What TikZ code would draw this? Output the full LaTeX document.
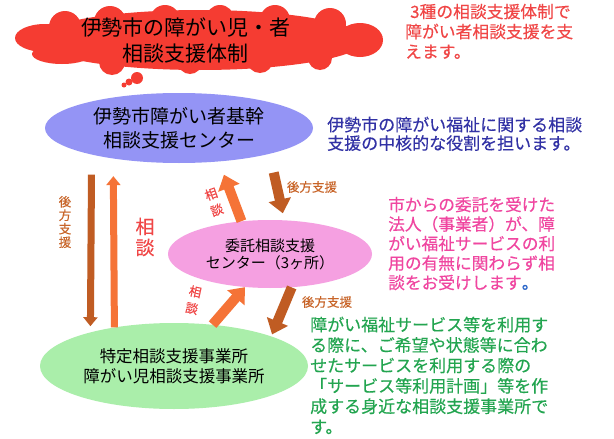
\documentclass[tikz,border=0pt]{standalone}
\usepackage{fontspec}
\setmainfont{Noto Sans CJK JP}
\newfontfamily\jpb{Noto Sans CJK JP}[FakeBold=0.3]
\usetikzlibrary{shapes.geometric,arrows.meta,calc}
\definecolor{cloudred}{RGB}{245,60,50}
\definecolor{blueell}{RGB}{148,148,245}
\definecolor{pinkell}{RGB}{245,160,225}
\definecolor{greenell}{RGB}{170,238,170}
\definecolor{arrbrown}{RGB}{192,92,35}
\definecolor{arrorange}{RGB}{245,115,55}
\definecolor{lblbrown}{RGB}{200,100,40}
\definecolor{txtred}{RGB}{240,70,70}
\definecolor{txtblue}{RGB}{50,50,165}
\definecolor{txtpink}{RGB}{240,70,160}
\definecolor{txtgreen}{RGB}{35,165,80}
\definecolor{dotblue}{RGB}{40,100,200}
\begin{document}
\begin{tikzpicture}[x=1pt,y=-1pt,
  ell/.style={ellipse, inner sep=0pt, align=center, text=black},
  para/.style={inner sep=0pt, align=left, anchor=north west},
  fatup/.style={draw=arrorange, line width=10pt, -{Triangle[width=22pt,length=14pt]}},
  fatdown/.style={draw=arrbrown, line width=10pt, -{Triangle[width=22pt,length=14pt]}},
  thinup/.style={draw=arrorange, line width=7pt, -{Triangle[width=14pt,length=9pt]}},
  thindown/.style={draw=arrbrown, line width=7pt, -{Triangle[width=14pt,length=9pt]}},
  smalllbl/.style={inner sep=0pt, text=lblbrown, font=\jpb\fontsize{12.5}{13.5}\selectfont, align=center},
  sodan/.style={inner sep=0pt, text=txtred, font=\jpb\fontsize{12.5}{17}\selectfont, align=center}]
\useasboundingbox (0,0) rectangle (614,439);
\fill[white] (0,0) rectangle (614,439);
% cloud
\begin{scope}[fill=cloudred]
  \fill (200,40) ellipse [x radius=165, y radius=30];
  \fill (45,38) ellipse [x radius=30, y radius=14];
  \fill (65,27) circle [radius=16];
  \fill (62,54) ellipse [x radius=30, y radius=10];
  \fill (110,22) circle [radius=16];
  \fill (165,20) circle [radius=15];
  \fill (220,19) circle [radius=14];
  \fill (275,20) circle [radius=15];
  \fill (330,24) circle [radius=16];
  \fill (360,40) ellipse [x radius=23, y radius=17];
  \fill (112,62) circle [radius=13];
  \fill (190,62) circle [radius=12];
  \fill (260,60) circle [radius=13];
  \fill (320,58) circle [radius=12];
  \fill (137,78) circle [radius=6];
  \fill (129,82) circle [radius=3.5];
  \fill (124,85) circle [radius=2.5];
\end{scope}
\node[inner sep=0pt, align=center, font=\fontsize{21}{26}\selectfont] (cloudtxt) at (186,40) {伊勢市の障がい児・者\\相談支援体制};
% ellipses
\node[ell, fill=blueell, minimum width=268pt, minimum height=70pt, font=\fontsize{19}{24}\selectfont] (blue) at (179,128) {伊勢市障がい者基幹\\相談支援センター};
\node[ell, fill=pinkell, minimum width=204pt, minimum height=68pt, font=\fontsize{15}{17}\selectfont] (pink) at (270,254) {委託相談支援\\センター（3ヶ所）};
\node[ell, fill=greenell, minimum width=268pt, minimum height=86pt, font=\fontsize{16.5}{20}\selectfont] (green) at (174,366) {特定相談支援事業所\\障がい児相談支援事業所};
% texts
\node[para, text=txtred, font=\jpb\fontsize{16.8}{20}\selectfont] (redtxt) at (405,3.6) {\hspace*{5pt}3種の相談支援体制で\\障がい者相談支援を支\\えます。};
\node[para, text=txtblue, font=\jpb\fontsize{17}{18.5}\selectfont] (bluetxt) at (327,116.5) {伊勢市の障がい福祉に関する相談\\支援の中核的な役割を担います。};
\node[para, text=txtpink, font=\jpb\fontsize{16.7}{19.5}\selectfont] (pinktxt) at (388,196.6) {市からの委託を受けた\\法人（事業者）が、障\\がい福祉サービスの利\\用の有無に関わらず相\\談をお受けします{\color{dotblue}。}};
\node[para, text=txtgreen, font=\jpb\fontsize{17}{20.4}\selectfont] (greentxt) at (310,316.5) {障がい福祉サービス等を利用す\\る際に、ご希望や状態等に合わ\\せたサービスを利用する際の\\「サービス等利用計画」等を作\\成する身近な相談支援事業所で\\す。};
% arrows
\draw[thindown, shorten <=20pt, shorten >=6pt] (blue.-163.9) -- (green.158.7);
\draw[thinup, shorten >=17.5pt] (green.147.9) -- (blue.-155.2);
\draw[fatup, shorten >=14pt] (pink.131.2) -- (blue.-40.7);
\draw[fatdown, shorten <=19pt, shorten >=7pt] (blue.-16.7) -- (pink.67.5);
\draw[fatup] (green.47.3) -- (pink.-127.1);
\draw[fatdown, shorten >=2pt] (pink.-57.8) -- (green.17.4);
% labels
\node[smalllbl] (lblleft) at (65,222) {後\\方\\支\\援};
\node[inner sep=0pt, text=txtred, font=\jpb\fontsize{19}{21}\selectfont, align=center] (bigsodan) at (145,237) {相\\談};
\node[sodan, rotate=20] (sodanup) at (214,202) {相\\談};
\node[sodan, rotate=-12] (sodanlow) at (193.5,300) {相\\談};
\node[smalllbl] (lblup) at (312,187) {後方支援};
\node[smalllbl] (lbllow) at (327,302) {後方支援};
\end{tikzpicture}
\end{document}
